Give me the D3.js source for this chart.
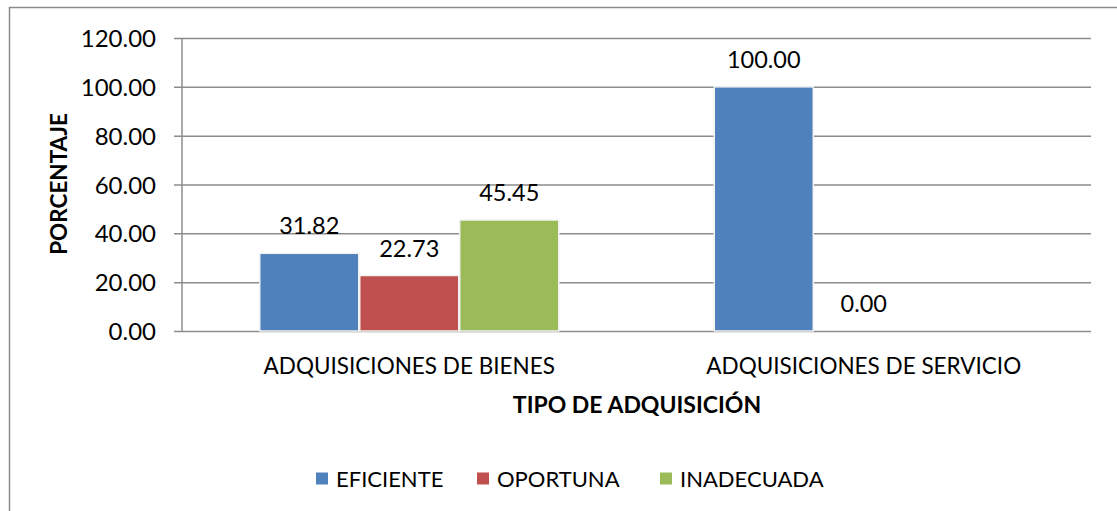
<!DOCTYPE html>
<html>
<head>
<meta charset="utf-8">
<script src="https://cdn.jsdelivr.net/npm/d3@7"></script>
<style>
  body { margin: 0; background: #fff; }
  text { font-family: Lato, "Open Sans", sans-serif; fill: #000; }
</style>
</head>
<body>
<svg id="chart" width="1117" height="511"></svg>
<script>
// chart data
const categories = ["ADQUISICIONES DE BIENES", "ADQUISICIONES DE SERVICIO"];
const seriesNames = ["EFICIENTE", "OPORTUNA", "INADECUADA"];
const eficiente = [31.82, 100.00];
const oportuna = [22.73, 0.00];
const inadecuada = [45.45, null]; // no value for servicio
const yTicks = [0, 20, 40, 60, 80, 100, 120];
const colors = ["#4f81bd", "#c0504d", "#9bbb59"];

const seriesValues = [eficiente, oportuna, inadecuada];

const svg = d3.select("#chart");
const margin = { left: 182, right: 1091, top: 38, bottom: 331 };

// outer chart frame (right/bottom edges are outside the picture)
svg.append("rect")
  .attr("x", 9.5).attr("y", 7.5)
  .attr("width", 1200).attr("height", 600)
  .attr("fill", "none")
  .attr("stroke", "#8c8c8c")
  .attr("stroke-width", 1.5);

const y = d3.scaleLinear().domain([0, 120]).range([margin.bottom, margin.top]);
const x = d3.scaleBand().domain(categories).range([margin.left, margin.right]);
const xSub = d3.scaleBand().domain(seriesNames)
  .range([0, x.bandwidth()])
  .paddingOuter(0.7725);

// gridlines + ticks
const yAxis = d3.axisLeft(y)
  .tickValues(yTicks)
  .tickSize(-(margin.right - margin.left))
  .tickFormat(d => d.toFixed(2));

const gy = svg.append("g")
  .attr("transform", `translate(${margin.left},0)`)
  .call(yAxis);
gy.select(".domain").remove();
gy.selectAll(".tick line")
  .attr("x1", -8)
  .attr("stroke", "#8c8c8c")
  .attr("stroke-width", 1.5);
gy.selectAll(".tick text")
  .attr("x", -26)
  .attr("dy", "0.36em")
  .style("font-size", "24px")
  .style("font-family", "Lato, sans-serif");

// vertical axis line
svg.append("line")
  .attr("x1", margin.left).attr("x2", margin.left)
  .attr("y1", margin.top).attr("y2", margin.bottom)
  .attr("stroke", "#8c8c8c")
  .attr("stroke-width", 1.5);

// bars
const rows = [];
categories.forEach((c, i) => {
  seriesNames.forEach((s, j) => {
    rows.push({ cat: c, series: s, value: seriesValues[j][i], color: colors[j] });
  });
});

const barRows = rows.filter(d => d.value !== null);

svg.append("g")
  .selectAll("rect")
  .data(barRows.filter(d => d.value > 0))
  .join("rect")
  .attr("x", d => x(d.cat) + xSub(d.series) + 0.5)
  .attr("y", d => y(d.value))
  .attr("width", xSub.bandwidth() - 1)
  .attr("height", d => y(0) - y(d.value))
  .attr("fill", d => d.color)
  .attr("stroke", "#f2f2f2")
  .attr("stroke-width", 1.5);

// value labels
svg.append("g")
  .selectAll("text")
  .data(barRows)
  .join("text")
  .attr("x", d => x(d.cat) + xSub(d.series) + xSub.bandwidth() / 2)
  .attr("y", d => y(d.value) - 19)
  .attr("text-anchor", "middle")
  .style("font-size", "23.5px")
  .text(d => d.value.toFixed(2));

// category labels
svg.append("g")
  .selectAll("text")
  .data(categories)
  .join("text")
  .attr("x", d => x(d) + x.bandwidth() / 2)
  .attr("y", 374)
  .attr("text-anchor", "middle")
  .style("font-size", "22.5px")
  .text(d => d);

// axis titles
svg.append("text")
  .attr("x", 637)
  .attr("y", 413)
  .attr("text-anchor", "middle")
  .style("font-size", "23px")
  .style("font-weight", "bold")
  .text("TIPO DE ADQUISICIÓN");

svg.append("text")
  .attr("transform", "translate(67,184) rotate(-90)")
  .attr("text-anchor", "middle")
  .style("font-size", "22.5px")
  .style("font-weight", "bold")
  .text("PORCENTAJE");

// legend
const legendX = [316, 477, 660];
const legend = svg.append("g")
  .selectAll("g")
  .data(seriesNames)
  .join("g")
  .attr("transform", (d, i) => `translate(${legendX[i]},478.5)`);

legend.append("rect")
  .attr("x", 0).attr("y", -6)
  .attr("width", 12).attr("height", 12)
  .attr("fill", (d, i) => colors[i]);

legend.append("text")
  .attr("x", 20)
  .attr("y", 8)
  .style("font-size", "22px")
  .text(d => d);
</script>
</body>
</html>
